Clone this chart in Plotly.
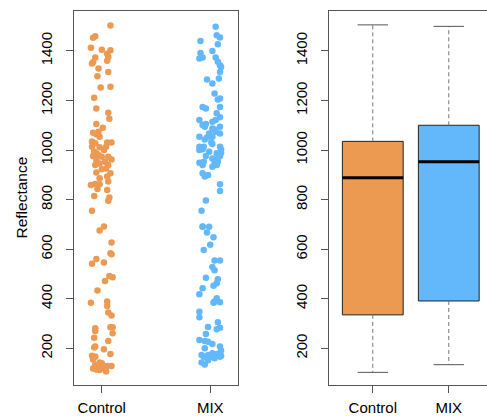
import numpy as np
import plotly.graph_objects as go

categories = ["Control", "MIX"]
ytick_vals = [200, 400, 600, 800, 1000, 1200, 1400]

# Stripchart: jitter offsets and reflectance values
control_jit = [0.08, -0.06, -0.08, -0.10, 0.00, 0.08, 0.05, -0.06, -0.08, -0.09, 0.06, 0.05, -0.03, -0.04, 0.06,
               -0.01, 0.08, -0.07, -0.05, 0.06, 0.07, -0.05, 0.01, -0.08, -0.05, -0.02, -0.03, -0.09, -0.06, 0.05,
               0.09, -0.09, -0.02, 0.04, -0.07, 0.02, -0.05, -0.08, -0.03, 0.00, 0.06, 0.09, -0.05, 0.03, -0.02,
               0.06, -0.06, 0.04, 0.00, -0.05, 0.08, 0.05, -0.02, 0.06, -0.10, -0.06, -0.02, -0.04, 0.05, -0.07,
               0.07, 0.06, -0.09, 0.02, -0.02, 0.09, -0.05, -0.09, 0.02, 0.08, 0.09, 0.07, 0.10, 0.03, -0.04,
               -0.10, 0.05, 0.05, 0.06, 0.09, -0.06, -0.06, 0.08, 0.10, 0.10, -0.07, 0.06, -0.06, -0.07, 0.02,
               0.08, -0.09, -0.06, -0.08, -0.02, 0.00, -0.08, -0.05, -0.02, 0.02, 0.05, 0.09, 0.04, -0.02, -0.06]
control_val = [1503, 1459, 1453, 1413, 1405, 1403, 1389, 1373, 1354, 1349, 1376, 1360, 1329, 1298, 1315,
               1252, 1255, 1211, 1168, 1150, 1126, 1105, 1090, 1070, 1064, 1054, 1074, 1034, 1027, 1030,
               1030, 1013, 1011, 1013, 993, 1000, 987, 976, 980, 973, 973, 962, 960, 953, 946,
               940, 940, 926, 922, 909, 906, 893, 886, 873, 859, 863, 862, 843, 839, 815,
               809, 795, 755, 692, 675, 627, 560, 541, 546, 584, 580, 492, 487, 472, 433,
               384, 389, 371, 345, 332, 281, 270, 285, 285, 261, 243, 230, 207, 203, 196,
               177, 170, 166, 155, 143, 140, 119, 115, 113, 119, 129, 129, 106, 130, 133]

mix_jit = [0.05, -0.09, 0.06, 0.09, 0.07, 0.02, -0.09, -0.10, -0.07, 0.05, 0.07, 0.09, 0.09, 0.10, -0.03,
           0.08, 0.02, 0.04, 0.07, 0.09, -0.07, -0.04, 0.09, 0.06, 0.09, -0.10, 0.05, 0.02, -0.07, -0.04,
           -0.05, 0.09, 0.02, 0.05, 0.04, -0.01, 0.09, -0.10, -0.03, -0.05, 0.02, 0.01, 0.02, -0.10, -0.06,
           0.09, 0.10, -0.10, -0.07, -0.01, 0.06, 0.10, 0.09, -0.04, 0.02, 0.06, 0.08, 0.04, 0.07, -0.10,
           -0.07, -0.06, 0.02, 0.06, -0.07, -0.05, -0.02, 0.09, 0.09, -0.04, -0.08, -0.07, -0.07, -0.01, -0.03,
           0.03, 0.00, -0.06, 0.02, 0.04, 0.04, 0.09, -0.04, 0.07, 0.06, 0.03, -0.07, -0.10, 0.06, 0.04,
           0.03, 0.09, -0.10, -0.10, 0.07, -0.02, 0.09, 0.06, -0.04, -0.10, -0.05, -0.02, 0.02, -0.05, 0.09,
           0.10, -0.08, -0.06, -0.02, 0.02, 0.06, 0.07, 0.01, 0.04, 0.09, -0.08, -0.05, -0.02, 0.10]
mix_val = [1497, 1440, 1463, 1454, 1427, 1400, 1392, 1369, 1373, 1373, 1356, 1342, 1315, 1335, 1285,
           1289, 1268, 1228, 1204, 1208, 1174, 1168, 1174, 1148, 1132, 1121, 1121, 1114, 1101, 1105,
           1094, 1094, 1087, 1074, 1083, 1067, 1067, 1054, 1051, 1043, 1054, 1030, 1024, 1013, 1013,
           1013, 1003, 1000, 1003, 993, 987, 989, 976, 976, 966, 962, 973, 949, 953, 949,
           940, 953, 933, 940, 906, 893, 899, 862, 835, 796, 755, 692, 690, 690, 667,
           648, 618, 597, 528, 515, 554, 554, 485, 479, 463, 452, 442, 418, 402, 389,
           384, 386, 348, 325, 305, 286, 283, 277, 258, 234, 230, 227, 217, 200, 207,
           191, 173, 166, 173, 180, 177, 173, 166, 160, 166, 143, 135, 152, 170]

# Boxplot statistics
box_low = [103, 134]
box_q1 = [335, 391]
box_med = [888, 953]
box_q3 = [1035, 1100]
box_high = [1505, 1499]

colors = ["#EC9A52", "#63B8FC"]
FONT = "Liberation Sans, Arial, sans-serif"
W, H = 487, 417

fig = go.Figure()

# Left: stripchart
for i, (jit, val) in enumerate([(control_jit, control_val), (mix_jit, mix_val)]):
    fig.add_trace(go.Scatter(
        x=(i + 1) + np.array(jit), y=val, mode="markers",
        marker=dict(color=colors[i], size=6.5, line=dict(width=0)),
        xaxis="x", yaxis="y", showlegend=False, hoverinfo="skip"))

# Right: boxplot
for i in range(2):
    c = i + 1
    fig.add_trace(go.Box(
        x=[c], q1=[box_q1[i]], median=[box_med[i]], q3=[box_q3[i]],
        lowerfence=[box_q1[i]], upperfence=[box_q3[i]],
        width=0.8, whiskerwidth=0, fillcolor=colors[i],
        line=dict(color="#222222", width=1),
        xaxis="x2", yaxis="y2", showlegend=False, hoverinfo="skip"))
for i in range(2):
    c = i + 1
    # dashed whiskers
    fig.add_trace(go.Scatter(
        x=[c, c, None, c, c], y=[box_q3[i], box_high[i], None, box_q1[i], box_low[i]],
        mode="lines", line=dict(color="#777777", width=1, dash="4px,3px"),
        xaxis="x2", yaxis="y2", showlegend=False, hoverinfo="skip"))
    # staples
    fig.add_trace(go.Scatter(
        x=[c - 0.2, c + 0.2, None, c - 0.2, c + 0.2],
        y=[box_high[i], box_high[i], None, box_low[i], box_low[i]],
        mode="lines", line=dict(color="#555555", width=1),
        xaxis="x2", yaxis="y2", showlegend=False, hoverinfo="skip"))
    # thick median
    fig.add_trace(go.Scatter(
        x=[c - 0.4, c + 0.4], y=[box_med[i], box_med[i]],
        mode="lines", line=dict(color="black", width=3),
        xaxis="x2", yaxis="y2", showlegend=False, hoverinfo="skip"))

axis_common = dict(showgrid=False, zeroline=False, showline=True, linecolor="#555555", linewidth=1,
                   ticks="outside", ticklen=7, tickcolor="#555555", tickwidth=1,
                   tickfont=dict(family=FONT, size=15, color="black"))

ydom = [1 - 385 / H, 1 - 11 / H]
yrange = [52, 1561]

fig.update_layout(
    width=W, height=H, autosize=False,
    margin=dict(l=0, r=0, t=0, b=0),
    paper_bgcolor="white", plot_bgcolor="white",
    boxmode="overlay",
    xaxis=dict(domain=[74 / W, 238 / W], range=[0.744, 2.256], tickvals=[1, 2], ticktext=categories,
               mirror=True, anchor="y", ticklabelstandoff=2, **axis_common),
    yaxis=dict(domain=ydom, range=yrange, tickvals=ytick_vals, tickangle=-90, mirror=True,
               anchor="x", ticklabelstandoff=8, **axis_common),
    xaxis2=dict(domain=[328.7 / W, 1.0], range=[0.42, 2.503], tickvals=[1, 2], ticktext=categories,
                mirror=True, anchor="y2", ticklabelstandoff=2, **axis_common),
    yaxis2=dict(domain=ydom, range=yrange, tickvals=ytick_vals, tickangle=-90, mirror=False,
                anchor="x2", ticklabelstandoff=8, **axis_common),
    annotations=[dict(text="Reflectance", x=21.5 / W, y=1 - 198 / H, xref="paper", yref="paper",
                      showarrow=False, textangle=-90, xanchor="center", yanchor="middle",
                      font=dict(family=FONT, size=15.5, color="black"))],
)

fig.write_html("out.html", config={"displayModeBar": False},
               post_script="document.body.style.margin='0px';document.body.style.padding='0px';"
                           "document.body.style.overflow='hidden';")
